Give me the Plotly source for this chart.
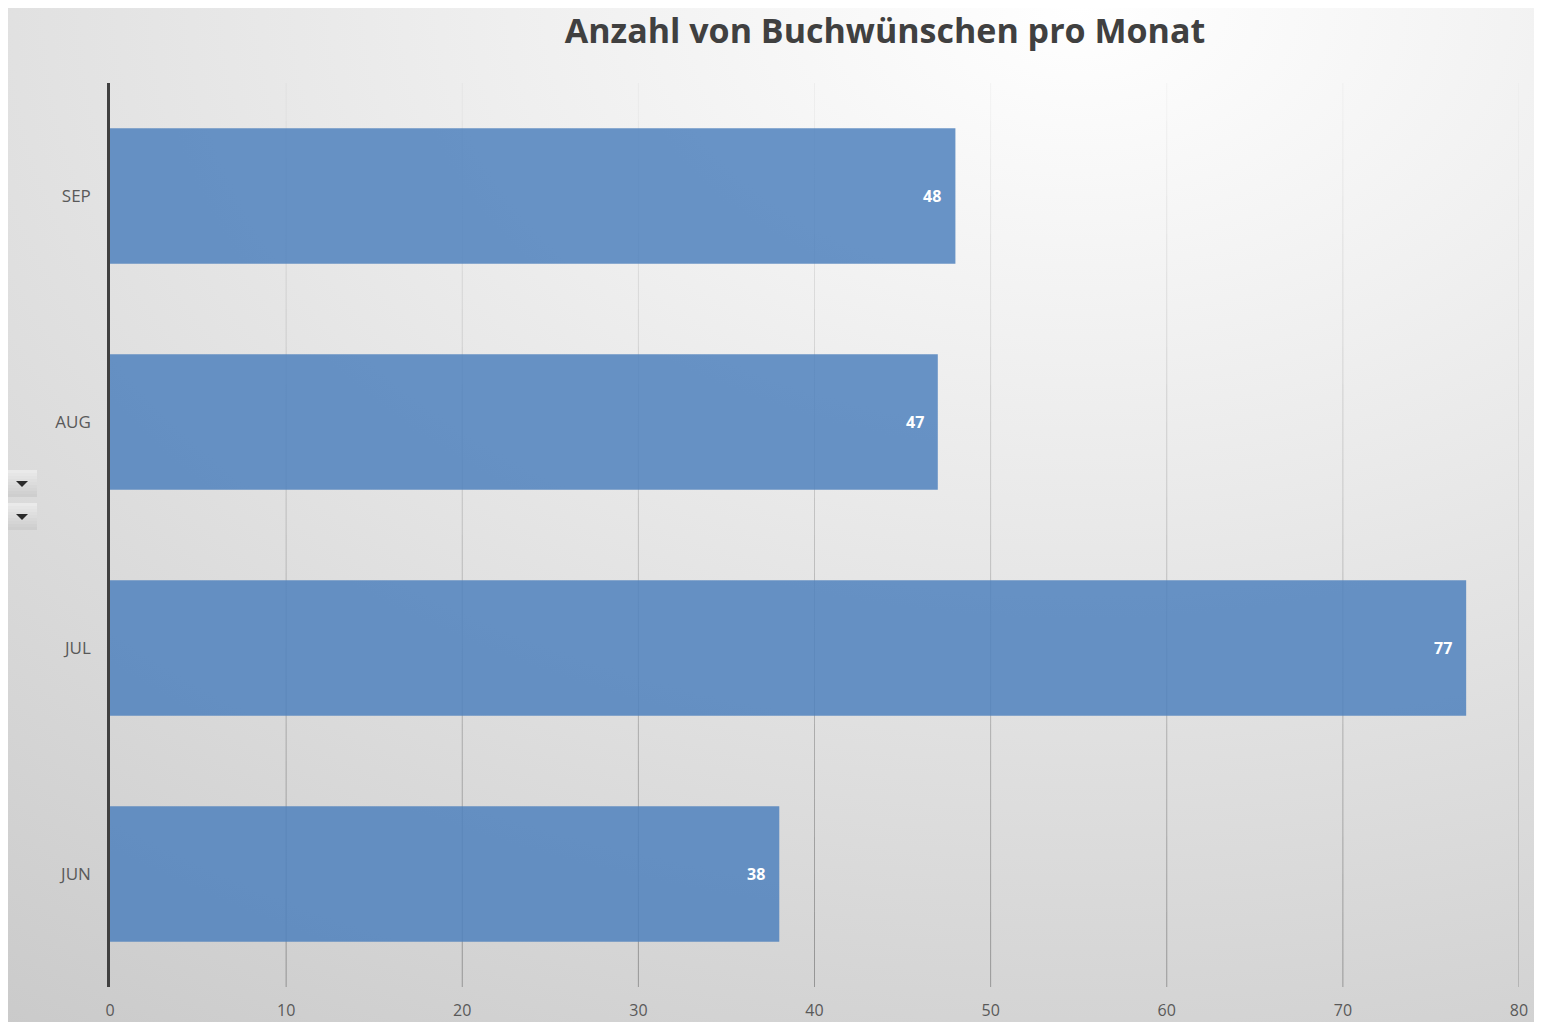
import plotly.graph_objects as go
import urllib.parse

# ---- data ----
months = ["JUN", "JUL", "AUG", "SEP"]
requests = [38, 77, 47, 48]
x_ticks = [0, 10, 20, 30, 40, 50, 60, 70, 80]
title_text = "Anzahl von Buchwünschen pro Monat"

# the page body has an 8px margin, so figure coords = page coords - 8
OFF = 8
W, H = 1532, 1014
L, R, T, B = 110 - OFF, 1519 - OFF, 83 - OFF, 987 - OFF  # plot area in figure pixels

def px_to_paper_x(px):  # px in page coords
    return (px - OFF - L) / (R - L)

def px_to_paper_y(py):
    return (B - (py - OFF)) / (B - T)

# background gradient as svg
svg = (
    '<svg xmlns="http://www.w3.org/2000/svg" width="1532" height="1016" viewBox="0 0 1532 1016" preserveAspectRatio="none">'
    '<defs><radialGradient id="g" cx="0.7" cy="0" r="1.3" gradientUnits="objectBoundingBox">'
    '<stop offset="0" stop-color="#ffffff"/><stop offset="1" stop-color="#c7c7c7"/>'
    '</radialGradient></defs><rect width="1532" height="1016" fill="url(#g)"/></svg>'
)
svg_uri = "data:image/svg+xml;charset=utf-8," + urllib.parse.quote(svg)

fig = go.Figure()
fig.add_trace(go.Bar(
    y=months,
    x=requests,
    orientation="h",
    marker=dict(color="rgba(79,129,189,0.85)", line=dict(width=0)),
    width=0.6,
    hoverinfo="x+y",
))

annotations = []
for m, v in zip(months, requests):
    annotations.append(dict(
        x=v, y=m, xref="x", yref="y", text=f"<b>{v}</b>", showarrow=False,
        xanchor="right", xshift=-12,
        font=dict(family="Open Sans", size=16, color="white"),
    ))

shapes = []
# vertical gridlines fading from top to bottom (drawn in segments)
N_SEG = 24
for tv in x_ticks[1:]:
    for i in range(N_SEG):
        y0 = i / N_SEG
        y1 = (i + 1) / N_SEG
        a = 0.30 - 0.27 * ((y0 + y1) / 2)
        shapes.append(dict(
            type="line", xref="x", yref="paper", x0=tv, x1=tv, y0=y0, y1=y1,
            line=dict(color=f"rgba(0,0,0,{a:.3f})", width=1), layer="below",
        ))

# Excel filter buttons at the left edge (vertical gradient + dropdown triangle)
for top in (470, 503):
    n = 9
    for k in range(n):
        g = int(234 - (234 - 206) * k / (n - 1))
        shapes.append(dict(
            type="rect", xref="paper", yref="paper",
            x0=px_to_paper_x(8), x1=px_to_paper_x(37),
            y0=px_to_paper_y(top + 3 * (k + 1)), y1=px_to_paper_y(top + 3 * k),
            fillcolor=f"rgb({g},{g},{g})", line=dict(width=0), layer="above",
        ))
    xa, xb, xc = px_to_paper_x(16), px_to_paper_x(28), px_to_paper_x(22)
    ya, yb = px_to_paper_y(top + 11), px_to_paper_y(top + 17)
    shapes.append(dict(
        type="path", xref="paper", yref="paper",
        path=f"M {xa} {ya} L {xb} {ya} L {xc} {yb} Z",
        fillcolor="#2a2a2a", line=dict(width=0), layer="above",
    ))

fig.update_layout(
    width=W, height=H,
    margin=dict(l=L, r=W - R, t=T, b=H - B, pad=0, autoexpand=False),
    paper_bgcolor="white",
    plot_bgcolor="rgba(0,0,0,0)",
    bargap=0.4,
    showlegend=False,
    title=dict(
        text=title_text,
        x=(885 - OFF) / W, xanchor="center", y=1 - (31 - OFF) / H, yanchor="middle",
        font=dict(family="Open Sans", size=34, color="#404040", weight=700),
    ),
    font=dict(family="Open Sans", size=16, color="#595959"),
    xaxis=dict(
        range=[0, 80], tickvals=x_ticks, showgrid=False, automargin=False,
        zeroline=False, showline=False, ticks="",
        ticklabelstandoff=12, tickfont=dict(size=16, color="#595959"), fixedrange=True,
    ),
    yaxis=dict(
        categoryorder="array", categoryarray=months, showgrid=False, zeroline=False,
        automargin=False,
        showline=True, linecolor="#404040", linewidth=2.5, ticks="",
        ticklabelstandoff=13, tickfont=dict(size=17, color="#595959"), fixedrange=True,
    ),
    images=[dict(
        source=svg_uri, xref="paper", yref="paper",
        x=px_to_paper_x(8), y=px_to_paper_y(6),
        sizex=1532 / (R - L), sizey=1016 / (B - T),
        xanchor="left", yanchor="top", sizing="stretch", layer="below",
    )],
    shapes=shapes,
    annotations=annotations,
)

fig.write_html("out.html", config={"displayModeBar": False})
